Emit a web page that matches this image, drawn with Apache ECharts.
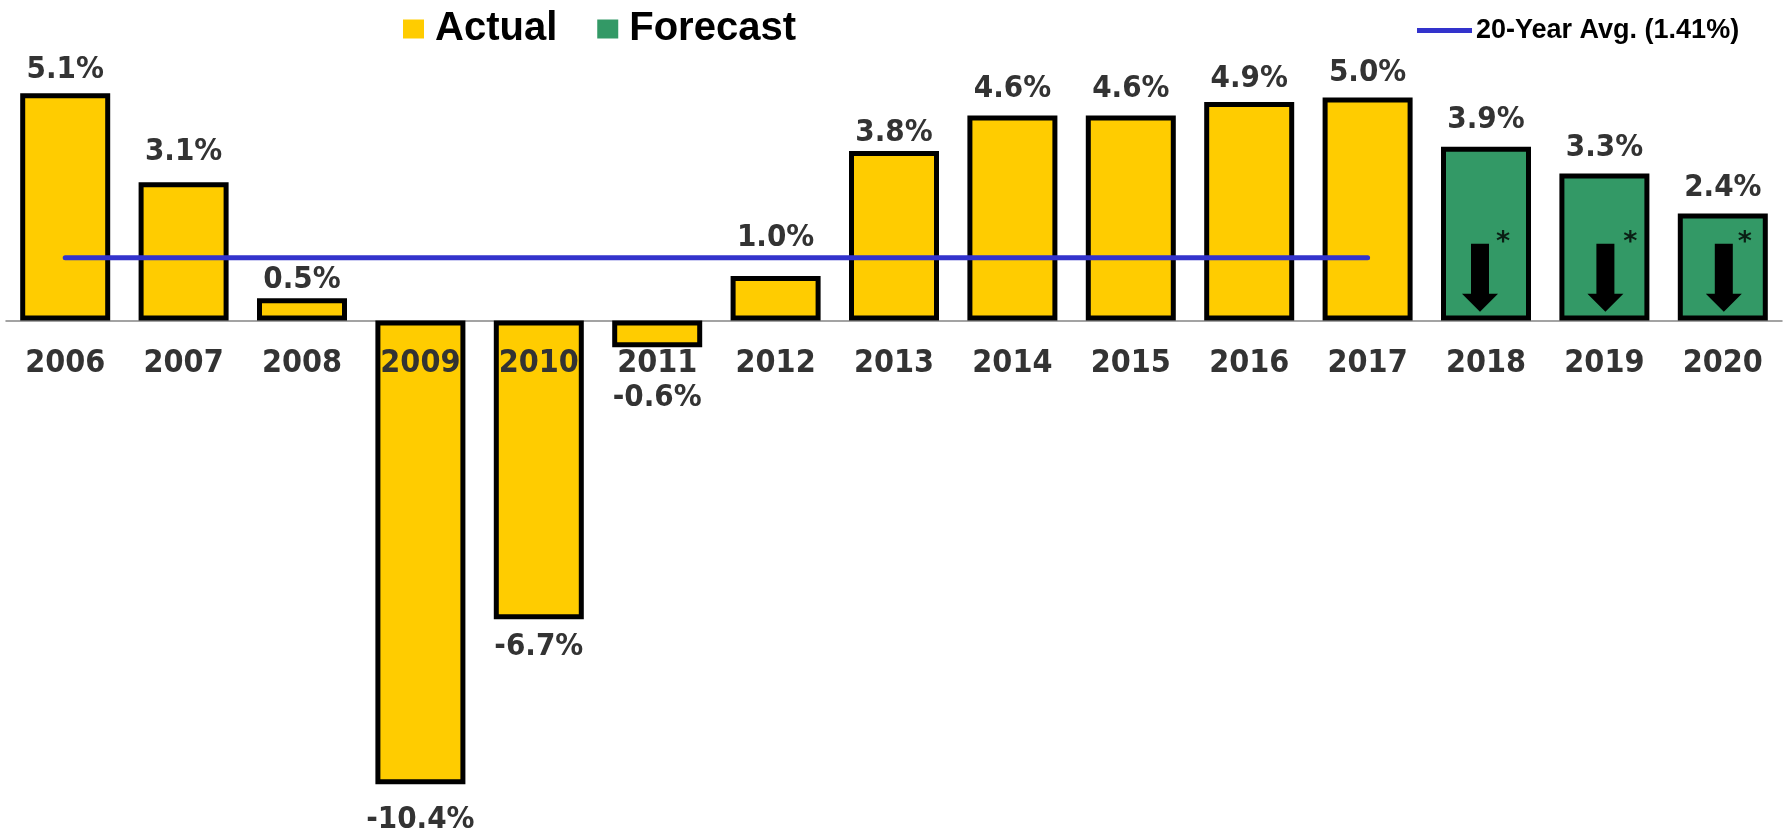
<!DOCTYPE html>
<html><head><meta charset="utf-8">
<script src="https://cdn.jsdelivr.net/npm/echarts@6/dist/echarts.min.js"></script>
<style>html,body{margin:0;padding:0;background:#fff}#c{width:1785px;height:833px}</style>
</head><body><div id="c"></div>
<script>
// ---- data ----
const categories = ['2006','2007','2008','2009','2010','2011','2012','2013','2014','2015','2016','2017','2018','2019','2020'];
const actualValues = [5.1, 3.1, 0.5, -10.4, -6.7, -0.6, 1.0, 3.8, 4.6, 4.6, 4.9, 5.0, '-', '-', '-'];
const forecastValues = ['-', '-', '-', '-', '-', '-', '-', '-', '-', '-', '-', '-', 3.9, 3.3, 2.4];
const avgLine = [1.41, 1.41, 1.41, 1.41, 1.41, 1.41, 1.41, 1.41, 1.41, 1.41, 1.41, 1.41, '-', '-', '-'];
const arrowYears = ['2018', '2019', '2020'];
const seriesNames = ['Actual', 'Forecast', '20-Year Avg. (1.41%)'];
const Y_MIN = -11, Y_MAX = 6;

// ---- layout nudges (pixels) ----
const labelCenterOffset = [27, 34, 21.5, 33, 25, 48, 41, 21.5, 30, 30, 27, 28, 30, 29, 29];
const arrowDx = [-6, 1, 1];
const starDx = [17, 26, 22];

const GRID_TOP = 53, GRID_BOTTOM = 22, H = 833;
const LABEL_FONT = "'DejaVu Sans Condensed', 'DejaVu Sans', sans-serif";
const fmt = p => p.value.toFixed(1) + '%';

// pixel distance from grid bottom up to the zero line (used to lift the label axis)
const gridH = H - GRID_TOP - GRID_BOTTOM;
const zeroLift = gridH * (0 - Y_MIN) / (Y_MAX - Y_MIN);

function barItems(vals) {
  return vals.map((v, i) => v === '-' ? '-' : {
    value: v,
    label: { position: v < 0 ? 'bottom' : 'top', distance: labelCenterOffset[i] - (v < 0 ? 13 : 19) }
  });
}

const barCommon = {
  type: 'bar',
  barWidth: 90,
  barGap: '-100%',
  label: {
    show: true, formatter: fmt, color: '#333333',
    fontFamily: LABEL_FONT, fontWeight: 'bold', fontSize: 31
  },
  z: 2
};

const chart = echarts.init(document.getElementById('c'), null, { renderer: 'canvas' });
chart.setOption({
  animation: false,
  backgroundColor: '#ffffff',
  grid: { left: 6, right: 3, top: GRID_TOP, bottom: GRID_BOTTOM, containLabel: false, outerBoundsMode: 'none' },
  legend: [
    {
      data: [seriesNames[0], seriesNames[1]],
      left: 398, top: 4,
      icon: 'rect', itemWidth: 21, itemHeight: 19, itemGap: 40,
      itemStyle: { borderWidth: 0 },
      textStyle: { fontFamily: "'Liberation Sans', Arial, sans-serif", fontWeight: 'bold', fontSize: 40, color: '#000', padding: [0, 0, 0, 6] }
    },
    {
      data: [{ name: seriesNames[2], icon: 'path://M0 0 H55 V5 H0 Z' }],
      left: 1412, top: 12,
      itemWidth: 55, itemHeight: 5,
      textStyle: { fontFamily: "'Liberation Sans', Arial, sans-serif", fontWeight: 'bold', fontSize: 27, color: '#000', padding: [0, 0, 0, -1] }
    }
  ],
  xAxis: [
    {
      type: 'category', data: categories, position: 'bottom',
      axisLine: { show: true, onZero: true, lineStyle: { color: '#858585', width: 1.5 } },
      axisTick: { show: false }, axisLabel: { show: false }, splitLine: { show: false }, z: 0
    },
    {
      type: 'category', data: categories, position: 'bottom', offset: -zeroLift,
      axisLine: { show: false, onZero: false },
      axisTick: { show: false }, splitLine: { show: false },
      axisLabel: { show: true, interval: 0, margin: 27, color: '#333333', fontFamily: LABEL_FONT, fontWeight: 'bold', fontSize: 32 },
      z: 10
    }
  ],
  yAxis: { type: 'value', min: Y_MIN, max: Y_MAX, show: false, splitLine: { show: false } },
  series: [
    Object.assign({}, barCommon, {
      name: seriesNames[0], data: barItems(actualValues),
      itemStyle: { color: '#FFCC00', borderColor: '#000', borderWidth: 5 }
    }),
    Object.assign({}, barCommon, {
      name: seriesNames[1], data: barItems(forecastValues),
      itemStyle: { color: '#339966', borderColor: '#000', borderWidth: 5 }
    }),
    {
      name: seriesNames[2], type: 'line', data: avgLine,
      symbol: 'none', z: 3,
      itemStyle: { color: '#3333CC' },
      lineStyle: { color: '#3333CC', width: 5, cap: 'round' }
    },
    {
      type: 'scatter', silent: true, z: 4,
      symbol: 'path://M9 0 L27 0 L27 50 L36 50 L18 68 L0 50 L9 50 Z',
      symbolSize: [36, 68],
      itemStyle: { color: '#000', opacity: 1 },
      data: arrowYears.map((y, i) => ({ value: [y, 0], symbolOffset: [arrowDx[i], -42.7] }))
    },
    {
      type: 'scatter', silent: true, z: 5,
      symbolSize: 2, itemStyle: { color: 'rgba(0,0,0,0)' },
      label: { show: true, formatter: '*', position: 'inside', color: '#000', fontFamily: "'DejaVu Sans', sans-serif", fontWeight: 'bold', fontSize: 27 },
      data: arrowYears.map((y, i) => ({ value: [y, 0], label: { offset: [starDx[i], -78] } }))
    }
  ]
});
</script>
</body></html>
